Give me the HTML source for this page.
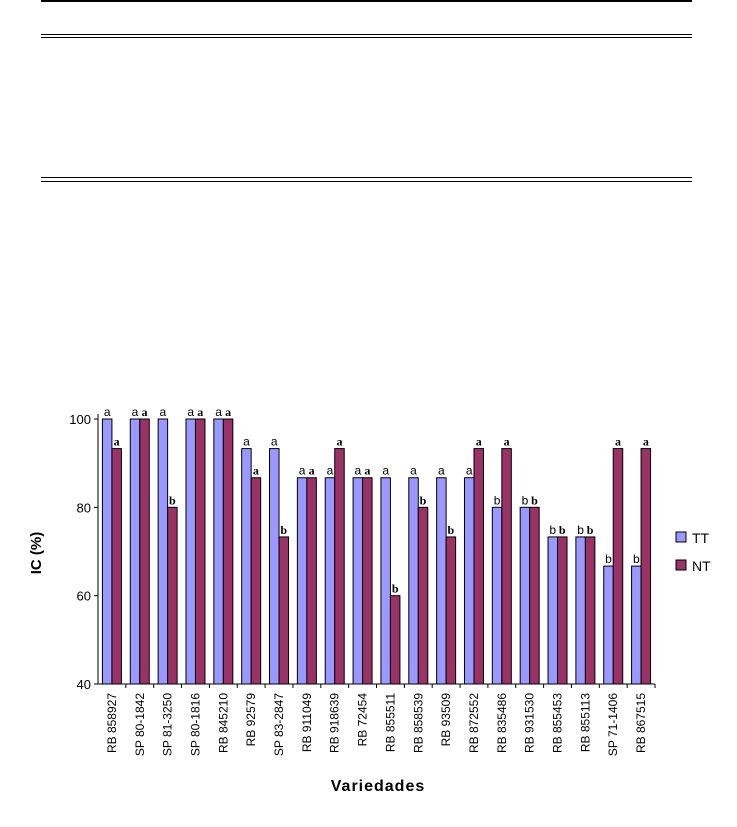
<!DOCTYPE html>
<html><head><meta charset="utf-8"><style>
body{margin:0;background:#fff;width:737px;height:827px;overflow:hidden;font-family:"Liberation Sans",Arial,sans-serif}
.ln{position:absolute;background:#000;height:1px}
</style></head><body>
<div class="ln" style="left:41px;top:0;width:651px;height:2px"></div>
<div class="ln" style="left:41px;top:34px;width:651px"></div>
<div class="ln" style="left:41px;top:37px;width:651px"></div>
<div class="ln" style="left:41px;top:177px;width:651px"></div>
<div class="ln" style="left:41px;top:181px;width:651px"></div>
<svg id="chart" width="737" height="827" style="position:absolute;left:0;top:0"></svg>
<script>
const categories=["RB 858927","SP 80-1842","SP 81-3250","SP 80-1816","RB 845210","RB 92579","SP 83-2847","RB 911049","RB 918639","RB 72454","RB 855511","RB 858539","RB 93509","RB 872552","RB 835486","RB 931530","RB 855453","RB 855113","SP 71-1406","RB 867515"];
const ttValues=[100,100,100,100,100,93.3,93.3,86.7,86.7,86.7,86.7,86.7,86.7,86.7,80,80,73.3,73.3,66.7,66.7];
const ntValues=[93.3,100,80,100,100,86.7,73.3,86.7,93.3,86.7,60,80,73.3,93.3,93.3,80,73.3,73.3,93.3,93.3];
const ttLetters=["a","a","a","a","a","a","a","a","a","a","a","a","a","a","b","b","b","b","b","b"];
const ntLetters=["a","a","b","a","a","a","b","a","a","a","b","b","b","a","a","b","b","b","a","a"];
const yTicks=[40,60,80,100];
const NS="http://www.w3.org/2000/svg";
const svg=document.getElementById('chart');
const X0=98,X1=655,Y0=684,Y1=419,YMIN=40,YMAX=100;
const y=v=>Y0-(v-YMIN)/(YMAX-YMIN)*(Y0-Y1);
const gw=(X1-X0)/categories.length;
const x=i=>X0+i*gw;
function mk(t,a){const e=document.createElementNS(NS,t);for(const k in a)e.setAttribute(k,a[k]);svg.appendChild(e);return e;}
let e;
e=mk('line',{x1:X0,y1:Y1-5,x2:X0,y2:Y0,stroke:'#000'});


e=mk('line',{x1:X0-4,y1:Y0,x2:X1,y2:Y0,stroke:'#000'});


yTicks.forEach(t=>{
 e=mk('line',{x1:X0-4,y1:y(t),x2:X0,y2:y(t),stroke:'#000'});
 
 
 e=mk('text',{x:X0-7,y:y(t)+5,'text-anchor':'end','font-size':13,fill:'#000'});e.textContent=t;
 
 
});
const bw=9.5;
categories.forEach((c,i)=>{
 const cx=x(i)+gw/2;
 e=mk('line',{x1:x(i+1),y1:Y0,x2:x(i+1),y2:Y0+4,stroke:'#000'});
 
 
 e=mk('rect',{x:cx-bw,y:y(ttValues[i]),width:bw,height:Y0-y(ttValues[i]),fill:'#9999ff',stroke:'#000','stroke-width':1});
 
 
 e=mk('rect',{x:cx,y:y(ntValues[i]),width:bw,height:Y0-y(ntValues[i]),fill:'#993366',stroke:'#000','stroke-width':1});
 
 
 e=mk('text',{x:cx-bw/2,y:y(ttValues[i])-3,'text-anchor':'middle','font-size':12,fill:'#000'});e.textContent=ttLetters[i];
 
 
 e=mk('text',{x:cx+bw/2,y:y(ntValues[i])-3,'text-anchor':'middle','font-size':12,'font-weight':'bold','font-family':'Liberation Serif, serif',fill:'#000'});e.textContent=ntLetters[i];
 
 
 e=mk('text',{x:0,y:0,'text-anchor':'end','font-size':12,fill:'#000',transform:`translate(${cx+4},${Y0+9}) rotate(-90)`});e.textContent=c;
 
 
});
e=mk('text',{x:0,y:0,'text-anchor':'middle','font-size':15,'font-weight':'bold',fill:'#000',transform:'translate(41,553) rotate(-90)'});e.textContent='IC (%)';


e=mk('text',{x:378,y:791,'text-anchor':'middle','font-size':16,'font-weight':'bold','letter-spacing':'1',fill:'#000'});e.textContent='Variedades';


[["TT","#9999ff",532],["NT","#993366",560]].forEach(([n,c,ly])=>{
 e=mk('rect',{x:676,y:ly,width:10,height:10,fill:c,stroke:'#000'});
 
 
 e=mk('text',{x:692,y:ly+11,'font-size':14,fill:'#000'});e.textContent=n;
 
 
});
</script>
</body></html>
